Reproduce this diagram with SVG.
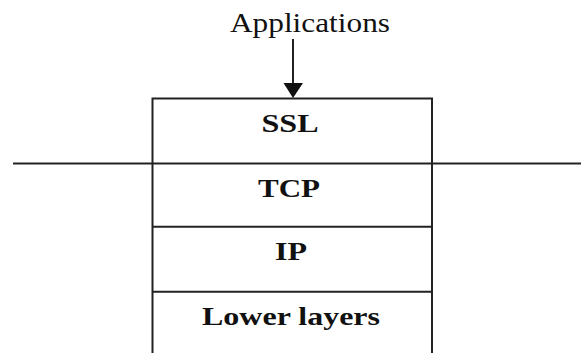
<svg xmlns="http://www.w3.org/2000/svg" width="581" height="353" viewBox="0 0 581 353">
  <style>
    .ln { stroke: #222; stroke-width: 2; fill: none; }
    .lbl { font-family: "Liberation Serif", "Times New Roman", serif; font-size: 26px; font-weight: bold; fill: #111; text-anchor: middle; }
    .app { font-family: "Liberation Serif", "Times New Roman", serif; font-size: 27px; fill: #111; text-anchor: middle; }
  </style>
  <rect width="581" height="353" fill="#fff"/>

  <!-- boundary line across the stack -->
  <line class="ln" x1="13" y1="163.5" x2="581" y2="163.5"/>

  <g id="applications">
    <text class="app" x="310" y="31.5" textLength="160" lengthAdjust="spacingAndGlyphs">Applications</text>
  </g>

  <g id="stack">
    <path class="ln" d="M152.5 353 V98.5 H432 V353"/>
  </g>

  <g id="ssl">
    <text class="lbl" x="290" y="131.5" textLength="57" lengthAdjust="spacingAndGlyphs">SSL</text>
  </g>
  <g id="tcp">
    <text class="lbl" x="289" y="196.5" textLength="62" lengthAdjust="spacingAndGlyphs">TCP</text>
  </g>
  <g id="ip">
    <line class="ln" x1="152.5" y1="226.7" x2="432" y2="226.7"/>
    <text class="lbl" x="291" y="260" textLength="32" lengthAdjust="spacingAndGlyphs">IP</text>
  </g>
  <g id="lower-layers">
    <line class="ln" x1="152.5" y1="291.7" x2="432" y2="291.7"/>
    <text class="lbl" x="291" y="325" textLength="178" lengthAdjust="spacingAndGlyphs">Lower layers</text>
  </g>

  <g id="connectors">
    <line class="ln" x1="293" y1="39" x2="293" y2="84"/>
    <polygon points="283.5,83 303,83 293,98" fill="#111"/>
  </g>
</svg>
